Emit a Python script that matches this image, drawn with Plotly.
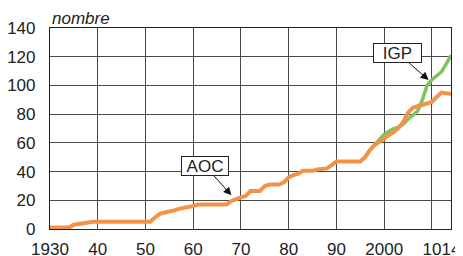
import plotly.graph_objects as go

# ---- data ----
aoc_years = list(range(1930, 2015))
aoc_values = [
    1, 1, 1, 1, 1, 3, 3.5, 4.5, 5, 5,            # 1930-1939
    5, 5, 5, 5, 5, 5, 5, 5, 5, 5,                # 1940-1949
    5, 5, 8, 10.5, 11.5, 12, 13, 14, 14.5, 15.5, # 1950-1959
    16, 17, 17, 17, 17, 17, 17, 17, 19.5, 21,    # 1960-1969
    22, 23, 26.5, 26.5, 26.5, 30, 31, 31, 31, 32.5,  # 1970-1979
    36, 37.5, 38.5, 40.5, 40.5, 40.5, 41.5, 42, 42.2, 44.5,  # 1980-1989
    47, 47, 47, 47, 47, 47, 50, 55, 58.5, 60.5,  # 1990-1999
    63, 65.5, 67.5, 70.5, 74.5, 81, 84.5, 85.5, 86.5, 87.5,  # 2000-2009
    88.5, 92, 95, 94.5, 94,                      # 2010-2014
]
igp_years = list(range(1998, 2015))
igp_values = [58.5, 62, 66, 68, 70, 71, 73, 76.5, 79, 82, 90, 100, 104, 107, 109.5, 115, 121]

x_tickvals = [1930, 1940, 1950, 1960, 1970, 1980, 1990, 2000, 2010, 2014]
x_ticktext = ["1930", "40", "50", "60", "70", "80", "90", "2000", "10", "14"]
y_tickvals = [0, 20, 40, 60, 80, 100, 120, 140]

ORANGE = "#F4924A"
GREEN = "#7DC35F"
GRID = "#4a4a4a"
FONT = "Liberation Sans, Arial, sans-serif"

fig = go.Figure()
fig.add_trace(go.Scatter(x=igp_years, y=igp_values, mode="lines",
                         line=dict(color=GREEN, width=3.5), showlegend=False))
fig.add_trace(go.Scatter(x=aoc_years, y=aoc_values, mode="lines",
                         line=dict(color=ORANGE, width=4), showlegend=False))

# the page body adds an 8px offset; margins compensate for it
fig.update_layout(
    width=463, height=256,
    margin=dict(l=42, r=20, t=20, b=35),
    paper_bgcolor="white", plot_bgcolor="white",
    font=dict(family=FONT, size=17, color="#222"),
    xaxis=dict(range=[1930, 2014], tickvals=x_tickvals, ticktext=x_ticktext,
               tickangle=0, showgrid=True, gridcolor=GRID, gridwidth=1,
               showline=True, linecolor="#222", linewidth=1.2, mirror=True,
               ticks="", ticklabelstandoff=4, zeroline=False, automargin=False,
               tickfont=dict(size=17)),
    yaxis=dict(range=[0, 140], tickvals=y_tickvals,
               showgrid=True, gridcolor=GRID, gridwidth=1,
               showline=True, linecolor="#222", linewidth=1.2, mirror=True,
               ticks="", ticklabelstandoff=10, zeroline=False, automargin=False,
               tickfont=dict(size=17)),
    annotations=[
        dict(text="<i>nombre</i>", xref="paper", yref="paper", x=0, y=1,
             xanchor="left", yanchor="bottom", yshift=-2, showarrow=False,
             font=dict(size=17, family=FONT, color="#222")),
        dict(text="AOC", x=1968.0, y=23.5, xref="x", yref="y",
             ax=-26, ay=-29, showarrow=True, arrowhead=2, arrowsize=1.6,
             arrowwidth=1, arrowcolor="#111", bgcolor="white",
             bordercolor="#222", borderwidth=1, borderpad=1,
             width=44, height=16, font=dict(size=17, family=FONT, color="#222")),
        dict(text="IGP", x=2009.3, y=103.7, xref="x", yref="y",
             ax=-31, ay=-27.5, showarrow=True, arrowhead=2, arrowsize=1.6,
             arrowwidth=1, arrowcolor="#111", bgcolor="white",
             bordercolor="#222", borderwidth=1, borderpad=1,
             width=45, height=16, font=dict(size=17, family=FONT, color="#222")),
    ],
)

fig.write_html("out.html")
